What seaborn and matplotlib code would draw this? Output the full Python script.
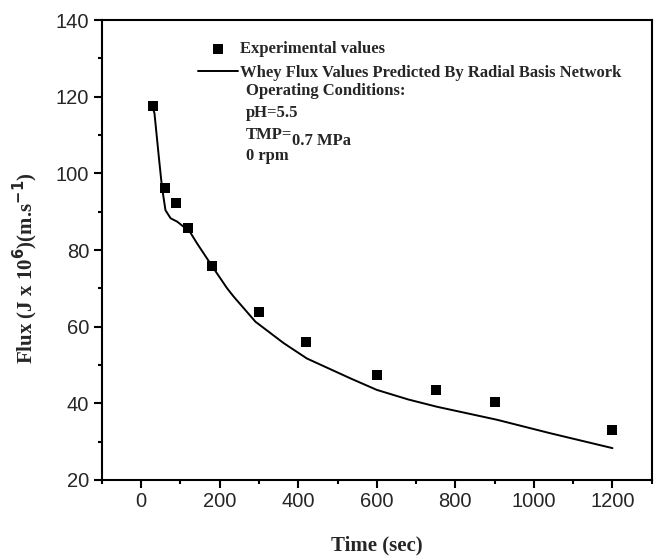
import matplotlib
matplotlib.use('Agg')
import matplotlib.pyplot as plt
from matplotlib.ticker import MultipleLocator
import seaborn as sns
import pandas as pd

# Experimental points
exp_time = [30, 60, 90, 120, 180, 300, 420, 600, 750, 900, 1200]
exp_flux = [117.6, 96.3, 92.3, 85.8, 75.9, 63.9, 56.1, 47.3, 43.4, 40.4, 33.1]

# Radial basis network prediction
rbf_time = [30, 34, 45, 53, 62, 75, 92, 108, 121, 142, 180, 219, 236, 291,
            363, 422, 533, 600, 680, 753, 906, 1041, 1200]
rbf_flux = [117.0, 115.7, 104.4, 96.5, 90.4, 88.3, 87.4, 86.1, 85.3, 81.8,
            75.9, 70.0, 67.8, 61.3, 55.7, 51.7, 46.5, 43.5, 41.0, 39.1,
            35.7, 32.2, 28.3]

conditions = ["Operating Conditions:", "pH=5.5", "TMP=", "0.7 MPa", "0 rpm"]

sns.set_style("white")
plt.rcParams['font.family'] = ['Liberation Sans', 'DejaVu Sans']

exp_df = pd.DataFrame({"time": exp_time, "flux": exp_flux})
rbf_df = pd.DataFrame({"time": rbf_time, "flux": rbf_flux})

fig = plt.figure(figsize=(6.57, 5.6), dpi=100)
ax = fig.add_axes([0.155, 0.143, 0.837, 0.821])

sns.scatterplot(data=exp_df, x="time", y="flux", marker="s", s=60,
                color="black", edgecolor="black", linewidth=0,
                label="Experimental values", ax=ax, zorder=3)
sns.lineplot(data=rbf_df, x="time", y="flux", color="black", linewidth=1.4,
             label="Whey Flux Values Predicted By Radial Basis Network",
             ax=ax, sort=False)

ax.set_xlim(-100, 1300)
ax.set_ylim(20, 140)
ax.xaxis.set_major_locator(MultipleLocator(200))
ax.xaxis.set_minor_locator(MultipleLocator(100))
ax.yaxis.set_major_locator(MultipleLocator(20))
ax.yaxis.set_minor_locator(MultipleLocator(10))
ax.tick_params(which="both", direction="out", bottom=True, left=True,
               top=False, right=False, width=1.5, color="black")
ax.tick_params(which="major", length=6, labelsize=14.5, pad=3)
ax.tick_params(which="minor", length=3)
for sp in ax.spines.values():
    sp.set_linewidth(1.5)
    sp.set_color("black")

serif = {"family": ["Liberation Serif", "DejaVu Serif"], "weight": "bold"}
ax.set_xlabel("Time (sec)", fontdict=dict(serif, size=15), labelpad=17)
ax.set_ylabel(r"Flux (J x 10$^{\mathbf{6}}$)(m.s$^{\mathbf{-1}}$)",
              fontdict=dict(serif, size=15))
ax.yaxis.set_label_coords(-0.112, 0.46)

leg = ax.legend(loc="upper left", bbox_to_anchor=(0.163, 0.969), frameon=False,
                prop=dict(serif, size=12), handlelength=2.4, handletextpad=0.12,
                borderaxespad=0, labelspacing=0.45)

txt = dict(serif, size=12)
ax.text(0.262, 0.845, conditions[0], transform=ax.transAxes, va="center", fontdict=txt)
ax.text(0.262, 0.799, conditions[1], transform=ax.transAxes, va="center", fontdict=txt)
ax.text(0.262, 0.751, conditions[2], transform=ax.transAxes, va="center", fontdict=txt)
ax.text(0.346, 0.738, conditions[3], transform=ax.transAxes, va="center", fontdict=txt)
ax.text(0.262, 0.704, conditions[4], transform=ax.transAxes, va="center", fontdict=txt)

fig.savefig("out.png", dpi=100)
plt.close(fig)
